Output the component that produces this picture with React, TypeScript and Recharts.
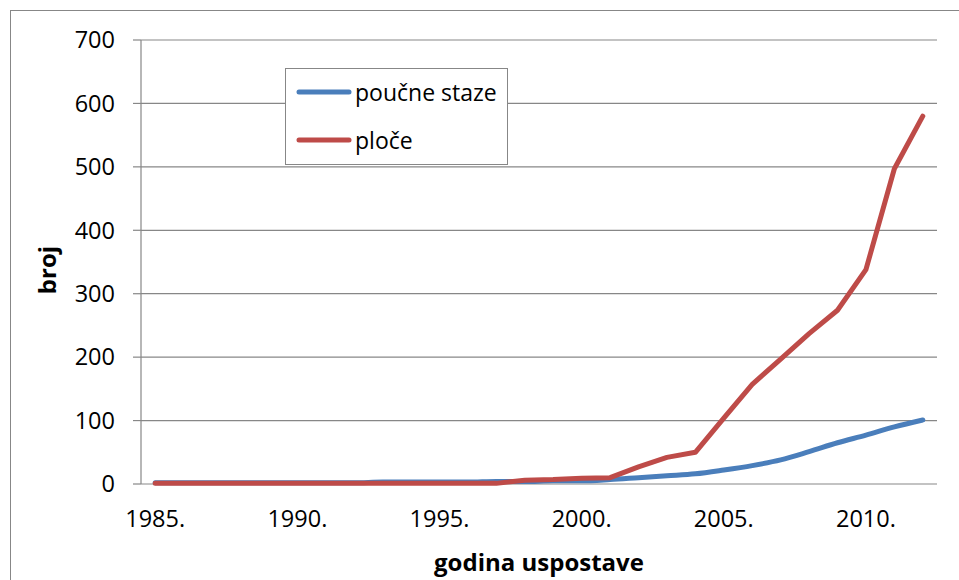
import { LineChart, Line, XAxis, YAxis, CartesianGrid, Legend, Label } from 'recharts'

const years = [1985, 1986, 1987, 1988, 1989, 1990, 1991, 1992, 1993, 1994, 1995, 1996, 1997, 1998, 1999, 2000, 2001, 2002, 2003, 2004, 2005, 2006, 2007, 2008, 2009, 2010, 2011, 2012]
const poucneStaze = [2, 2, 2, 2, 2, 2, 2, 2, 3, 3, 3, 3, 4, 4, 5, 5, 7, 10, 13, 16, 22, 29, 38, 51, 65, 77, 90, 101]
const ploce = [1, 1, 1, 1, 1, 1, 1, 1, 1, 1, 1, 1, 1, 6, 7, 9, 10, 27, 42, 50, 104, 157, 197, 237, 274, 338, 497, 580]
const yTicks = [0, 100, 200, 300, 400, 500, 600, 700]
const xLabelYears = [1985, 1990, 1995, 2000, 2005, 2010]

const FONT = '"Open Sans", sans-serif'
const GREY = '#878787'
const BLUE = '#4A7EBB'
const RED = '#BE4B48'

const data = years.map((year, i) => ({ year, poucne: poucneStaze[i], ploce: ploce[i] }))
// tick marks sit between categories, like Excel
const boundaries = [...years.map(y => y - 0.5), years[years.length - 1] + 0.5]
const xDomain = [boundaries[0], boundaries[boundaries.length - 1]]

const legendItems = [
  { label: 'poučne staze', color: BLUE },
  { label: 'ploče', color: RED },
]

function LegendBox() {
  return (
    <div style={{ width: 223, height: 97, boxSizing: 'border-box', border: `1.5px solid ${GREY}`, background: '#fff', fontFamily: FONT }}>
      {legendItems.map((item, i) => (
        <div key={item.label} style={{ position: 'absolute', left: 11, top: 12 + i * 48, height: 24, display: 'flex', alignItems: 'center' }}>
          <svg width={56} height={10}>
            <line x1={3} y1={5} x2={53} y2={5} stroke={item.color} strokeWidth={5} strokeLinecap="round" />
          </svg>
          <span style={{ fontSize: 23, color: '#000', marginLeft: 3, lineHeight: '24px' }}>{item.label}</span>
        </div>
      ))}
    </div>
  )
}

export default function App() {
  return (
    <div style={{ position: 'absolute', left: 0, top: 0, width: 959, height: 580, overflow: 'hidden', background: '#fff' }}>
      <div style={{ position: 'absolute', left: 10, top: 10, width: 1000, height: 1000, border: `1.5px solid ${GREY}` }} />
      <div style={{ position: 'absolute', left: 0, top: 0 }}>
        <LineChart width={959} height={580} data={data} margin={{ top: 40, right: 22, bottom: 0, left: 0 }}>
          <CartesianGrid xAxisId="ticks" vertical={false} stroke={GREY} strokeWidth={1.2} />
          <XAxis
            xAxisId="ticks"
            type="number"
            dataKey="year"
            domain={xDomain}
            ticks={boundaries}
            interval={0}
            tick={false}
            tickSize={8}
            tickLine={{ stroke: GREY, strokeWidth: 1.2 }}
            axisLine={{ stroke: GREY, strokeWidth: 1.2 }}
            height={0}
          />
          <XAxis
            xAxisId="lbl"
            type="number"
            dataKey="year"
            domain={xDomain}
            ticks={xLabelYears}
            interval={0}
            tickFormatter={(v: number) => `${v}.`}
            axisLine={false}
            tickLine={false}
            tickSize={0}
            tickMargin={26}
            height={96}
            tick={{ fill: '#000', fontSize: 23.5, fontFamily: FONT }}
          >
            <Label
              content={({ viewBox }: any) => (
                <text x={viewBox.x + viewBox.width / 2} y={viewBox.y + 87} textAnchor="middle" fontFamily={FONT} fontSize={24} fontWeight="bold" fill="#000">
                  godina uspostave
                </text>
              )}
            />
          </XAxis>
          <YAxis
            type="number"
            domain={[0, 700]}
            ticks={yTicks}
            interval={0}
            width={141}
            tickSize={8}
            tickMargin={18}
            tickLine={{ stroke: GREY, strokeWidth: 1.2 }}
            axisLine={{ stroke: GREY, strokeWidth: 1.2 }}
            tick={{ fill: '#000', fontSize: 23.5, fontFamily: FONT }}
          >
            <Label
              content={({ viewBox }: any) => (
                <text x={56} y={viewBox.y + viewBox.height / 2 + 8} transform={`rotate(-90, 56, ${viewBox.y + viewBox.height / 2 + 8})`} textAnchor="middle" fontFamily={FONT} fontSize={24} fontWeight="bold" fill="#000">
                  broj
                </text>
              )}
            />
          </YAxis>
          <Legend
            layout="vertical"
            align="center"
            verticalAlign="middle"
            content={() => <LegendBox />}
            wrapperStyle={{ position: 'absolute', left: 285, top: 68, width: 223, height: 97 }}
          />
          <Line xAxisId="lbl" type="monotone" dataKey="poucne" name="poučne staze" stroke={BLUE} strokeWidth={5} strokeLinecap="round" dot={false} isAnimationActive={false} />
          <Line xAxisId="lbl" type="linear" dataKey="ploce" name="ploče" stroke={RED} strokeWidth={5} strokeLinecap="round" strokeLinejoin="round" dot={false} isAnimationActive={false} />
        </LineChart>
      </div>
    </div>
  )
}
